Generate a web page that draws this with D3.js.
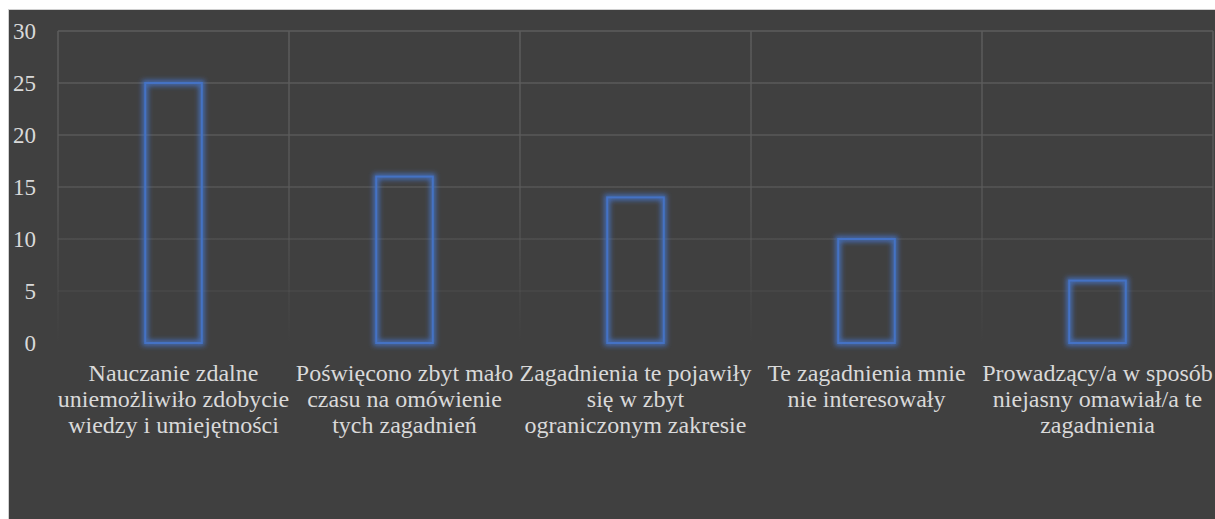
<!DOCTYPE html>
<html>
<head>
<meta charset="utf-8">
<script src="https://cdn.jsdelivr.net/npm/d3@7"></script>
<style>
html,body{margin:0;padding:0;background:#fff;}
svg{display:block;}
</style>
</head>
<body>
<script>
const categories = [
  ["Nauczanie zdalne","uniemożliwiło zdobycie","wiedzy i umiejętności"],
  ["Poświęcono zbyt mało","czasu na omówienie","tych zagadnień"],
  ["Zagadnienia te pojawiły","się w zbyt","ograniczonym zakresie"],
  ["Te zagadnienia mnie","nie interesowały"],
  ["Prowadzący/a w sposób","niejasny omawiał/a te","zagadnienia"]
];
const values = [25, 16, 14, 10, 6];
const yTicks = [0, 5, 10, 15, 20, 25, 30];

const W = 1215, H = 519;
const FONT = "Liberation Serif";
const svg = d3.select("body").append("svg").attr("width", W).attr("height", H);

const defs = svg.append("defs");
const grad = defs.append("linearGradient").attr("id","gridFade")
  .attr("gradientUnits","userSpaceOnUse").attr("x1",0).attr("x2",0).attr("y1",31).attr("y2",343);
grad.append("stop").attr("offset","0%").attr("stop-color","#5c5c5c").attr("stop-opacity",1);
grad.append("stop").attr("offset","55%").attr("stop-color","#5c5c5c").attr("stop-opacity",0.75);
grad.append("stop").attr("offset","100%").attr("stop-color","#5c5c5c").attr("stop-opacity",0);

const glow = defs.append("filter").attr("id","glow").attr("x","-50%").attr("y","-50%").attr("width","200%").attr("height","200%");
glow.append("feMorphology").attr("in","SourceGraphic").attr("operator","dilate").attr("radius",1.5).attr("result","thick");
glow.append("feGaussianBlur").attr("in","thick").attr("stdDeviation",2.8).attr("result","blur");
glow.append("feComponentTransfer").attr("in","blur").attr("result","blur2")
  .append("feFuncA").attr("type","linear").attr("slope",0.85);
const merge = glow.append("feMerge");
merge.append("feMergeNode").attr("in","blur2");
merge.append("feMergeNode").attr("in","SourceGraphic");

// background
svg.append("rect").attr("x",8).attr("y",9).attr("width",W-8).attr("height",H-9).attr("fill","#d0d0d0");
svg.append("rect").attr("x",9).attr("y",10).attr("width",W-9).attr("height",H-10).attr("fill","#404040");

const plot = {left:58, right:1213, top:31, bottom:343};
const x = d3.scaleBand().domain(d3.range(categories.length)).range([plot.left, plot.right]).padding(0);
const y = d3.scaleLinear().domain([0,30]).range([plot.bottom, plot.top]);

// gridlines
const g = svg.append("g");
g.selectAll("line.h").data(yTicks.filter(d=>d>0)).enter().append("line")
  .attr("x1",plot.left).attr("x2",plot.right)
  .attr("y1",d=>y(d)).attr("y2",d=>y(d)+0.001)
  .attr("stroke","url(#gridFade)").attr("stroke-width",1.5);
const vx = d3.range(categories.length+1).map(i => i < categories.length ? x(i) : plot.right);
g.selectAll("line.v").data(vx).enter().append("line")
  .attr("x1",d=>d).attr("x2",d=>d+0.001)
  .attr("y1",plot.top).attr("y2",plot.bottom)
  .attr("stroke","url(#gridFade)").attr("stroke-width",1.5);

// y tick labels
svg.append("g").selectAll("text").data(yTicks).enter().append("text")
  .attr("x",36).attr("y",d=>y(d)+8)
  .attr("text-anchor","end")
  .attr("font-family",FONT)
  .attr("font-size",23).attr("fill","#d9d9d9")
  .text(d=>d);

// bars
const bw = x.bandwidth()*0.245;
svg.append("g").selectAll("rect").data(values).enter().append("rect")
  .attr("x",(d,i)=>x(i)+x.bandwidth()/2-bw/2)
  .attr("y",d=>y(d))
  .attr("width",bw)
  .attr("height",d=>y(0)-y(d))
  .attr("fill","none")
  .attr("stroke","#4472C4").attr("stroke-width",2)
  .attr("filter","url(#glow)");

// x labels
const xl = svg.append("g").selectAll("text").data(categories).enter().append("text")
  .attr("text-anchor","middle")
  .attr("font-family",FONT)
  .attr("font-size",24).attr("fill","#d9d9d9");
xl.each(function(lines,i){
  const t = d3.select(this);
  lines.forEach((ln,j)=>{
    t.append("tspan").attr("x",x(i)+x.bandwidth()/2).attr("y",381+j*26).text(ln);
  });
});
</script>
</body>
</html>
